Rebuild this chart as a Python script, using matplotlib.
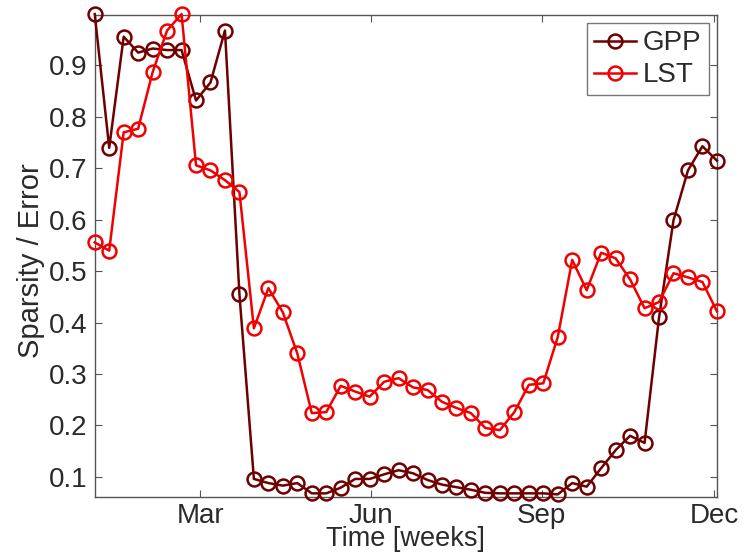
import matplotlib
matplotlib.use("Agg")
import matplotlib.pyplot as plt
import numpy as np

# weekly samples (44 points)
gpp = [1.00, 0.74, 0.956, 0.925, 0.933, 0.93, 0.93, 0.832, 0.867, 0.968,
       0.455, 0.096, 0.088, 0.083, 0.088, 0.068, 0.068, 0.079, 0.096, 0.096,
       0.105, 0.113, 0.107, 0.094, 0.085, 0.080, 0.075, 0.069, 0.068, 0.068,
       0.068, 0.068, 0.066, 0.088, 0.081, 0.117, 0.152, 0.180, 0.166, 0.410,
       0.599, 0.696, 0.743, 0.715]
lst = [0.556, 0.540, 0.770, 0.777, 0.887, 0.968, 1.00, 0.706, 0.696, 0.677,
       0.654, 0.389, 0.467, 0.420, 0.340, 0.224, 0.226, 0.277, 0.266, 0.256,
       0.285, 0.292, 0.274, 0.269, 0.246, 0.234, 0.224, 0.195, 0.191, 0.226,
       0.279, 0.282, 0.372, 0.522, 0.463, 0.536, 0.525, 0.484, 0.428, 0.440,
       0.496, 0.488, 0.479, 0.422]
weeks = np.arange(len(gpp))
month_ticks = [7.3, 19.1, 30.9, 42.8]
month_labels = ["Mar", "Jun", "Sep", "Dec"]
yticks = [0.1, 0.2, 0.3, 0.4, 0.5, 0.6, 0.7, 0.8, 0.9]

plt.rcParams["font.family"] = ["Liberation Sans", "DejaVu Sans"]
TXT = "#2a2a2a"
AX = "#555555"

fig = plt.figure(figsize=(7.46, 5.59), dpi=100)
ax = fig.add_axes([0.127, 0.111, 0.834, 0.862])

ax.plot(weeks, gpp, color="#6e0000", lw=1.8, marker="o", ms=10,
        mfc="none", mew=1.8, label="GPP", clip_on=False, zorder=3)
ax.plot(weeks, lst, color="#f00000", lw=1.8, marker="o", ms=10,
        mfc="none", mew=1.8, label="LST", clip_on=False, zorder=3)

ax.set_xlim(0, 43)
ax.set_ylim(0.061, 0.998)
ax.set_xticks(month_ticks)
ax.set_xticklabels(month_labels)
ax.set_yticks(yticks)
ax.set_yticklabels([f"{v:.1f}" for v in yticks])
ax.tick_params(direction="in", top=True, right=True, length=5, width=0.8,
               color=AX, labelsize=20, labelcolor=TXT)
ax.tick_params(axis="x", pad=4)
ax.tick_params(axis="y", pad=5)
for s in ax.spines.values():
    s.set_color(AX)
    s.set_linewidth(1.0)

ax.set_xlabel("Time [weeks]", fontsize=19.5, color=TXT, labelpad=-1.5)
ax.set_ylabel("Sparsity / Error", fontsize=21, color=TXT)
ax.yaxis.set_label_coords(-0.08, 0.49)

leg = ax.legend(loc="upper right", fontsize=20, fancybox=False,
                handlelength=1.5, handletextpad=0.25, borderpad=0.25,
                labelspacing=0.22, borderaxespad=0.3)
leg.get_frame().set_edgecolor(AX)
leg.get_frame().set_linewidth(1.0)
leg.set_zorder(5)
for t in leg.get_texts():
    t.set_color(TXT)

fig.savefig("out.png", dpi=100)
